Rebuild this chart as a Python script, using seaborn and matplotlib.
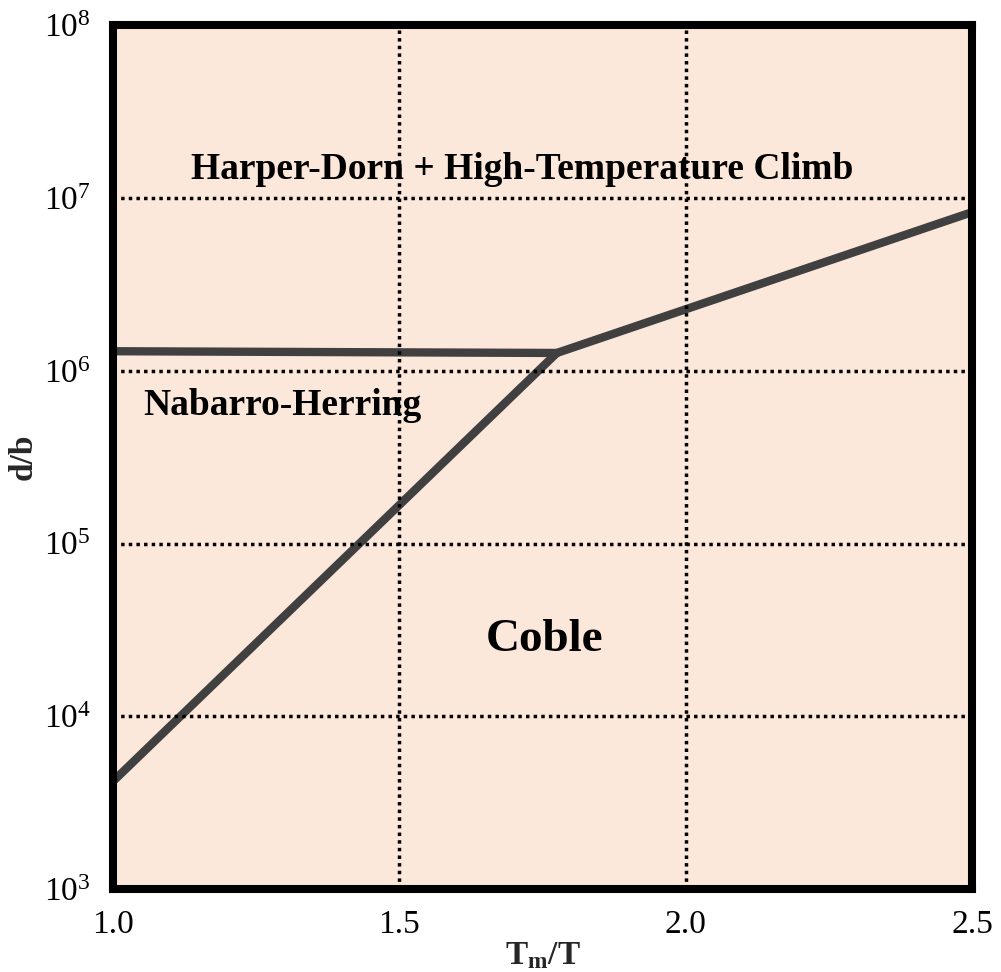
import pandas as pd
import matplotlib
matplotlib.use('Agg')
import matplotlib.pyplot as plt
import seaborn as sns

# boundaries of the deformation-mechanism map
seg_names = ['NH-Coble', 'NH-HD', 'HD-Coble']
seg_x = [[1.0, 1.775], [1.0, 1.775], [1.775, 2.5]]
seg_y = [[4.2e3, 1.27e6], [1.30e6, 1.27e6], [1.27e6, 8.3e6]]

x_ticks = [1.0, 1.5, 2.0, 2.5]
x_tick_labels = ['1.0', '1.5', '2.0', '2.5']
y_ticks = [1e3, 1e4, 1e5, 1e6, 1e7, 1e8]

region_names = ['Harper-Dorn + High-Temperature Climb', 'Nabarro-Herring', 'Coble']
region_x = [1.714, 1.295, 1.754]
region_y = [1.46e7, 6.3e5, 2.77e4]
region_size = [27, 27, 34]

rows = []
for nom, xs, ys in zip(seg_names, seg_x, seg_y):
    for xv, yv in zip(xs, ys):
        rows.append({'segment': nom, 'Tm/T': xv, 'd/b': yv})
df = pd.DataFrame(rows)

sns.set_theme(style='white')
plt.rcParams['font.family'] = ['serif']
plt.rcParams['font.serif'] = ['Liberation Serif', 'DejaVu Serif']
plt.rcParams['mathtext.fontset'] = 'custom'
plt.rcParams['mathtext.rm'] = 'Liberation Serif'
plt.rcParams['mathtext.it'] = 'Liberation Serif:italic'
plt.rcParams['mathtext.bf'] = 'Liberation Serif:bold'

fig = plt.figure(figsize=(10.01, 9.72), dpi=100)
ax = fig.add_axes([113 / 1001, 83 / 972, 859 / 1001, 863.5 / 972])
ax.set_facecolor('#fce8da')

sns.lineplot(data=df, x='Tm/T', y='d/b', units='segment', estimator=None,
             sort=False, color='#404040', linewidth=6, ax=ax)

ax.set_yscale('log')
ax.set_xlim(1.0, 2.5)
ax.set_ylim(1e3, 1e8)
ax.set_xticks(x_ticks)
ax.set_xticklabels(x_tick_labels)
ax.set_yticks(y_ticks)
ax.minorticks_off()
ax.tick_params(axis='both', length=0, labelsize=24, colors='black')
ax.tick_params(axis='x', pad=15)
ax.tick_params(axis='y', pad=16)

ax.set_axisbelow(False)
ax.grid(True, which='major', color='black', linestyle=(0, (1, 1.2)),
        linewidth=2.5)

for sp in ax.spines.values():
    sp.set_color('black')
    sp.set_linewidth(5.8)
    sp.set_capstyle('projecting')
    sp.set_zorder(5)

for nom, xv, yv, fs in zip(region_names, region_x, region_y, region_size):
    ax.text(xv, yv, nom, ha='center', va='center', fontsize=fs,
            fontweight='bold', color='black', zorder=1)

ax.set_xlabel(r'T$_{\mathbf{m}}$/T', fontsize=24, fontweight='bold', labelpad=0)
ax.set_ylabel('d/b', fontsize=24, fontweight='bold', labelpad=4)

fig.savefig('out.png', dpi=100, facecolor='white')
